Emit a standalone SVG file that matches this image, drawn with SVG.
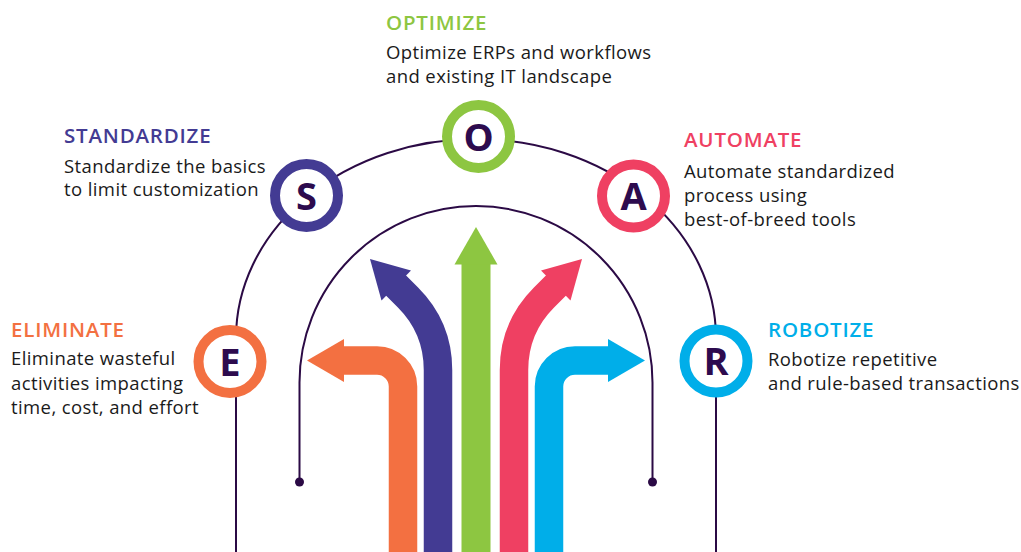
<svg xmlns="http://www.w3.org/2000/svg" width="1021" height="552" viewBox="0 0 1021 552">
<style>
.line{fill:none;stroke:#2b0a45;stroke-width:2}
.shaft{fill:none;stroke-width:28.5;stroke-linecap:butt}
.ring{fill:#fff;stroke-width:10}
.letter{font-family:"Open Sans","Noto Sans",sans-serif;font-weight:700;font-size:38px;fill:#2d0b4e;text-anchor:middle}
.title{font-family:"Open Sans","Noto Sans",sans-serif;font-weight:600;font-size:20.5px;letter-spacing:0.8px}
.body{font-family:"Open Sans","Noto Sans",sans-serif;font-size:18.5px;letter-spacing:0.4px;fill:#1a1a1a}
</style>
<rect width="1021" height="552" fill="#fff"/>
<g id="connectors">
<path class="line" d="M236 552 V338 A240 199 0 0 1 716 338 V552"/>
<path class="line" d="M299.5 482 V382.5 A176.5 176.5 0 0 1 652.5 382.5 V482"/>
<circle cx="299.5" cy="482" r="4.5" fill="#2b0a45"/>
<circle cx="652.5" cy="482" r="4.5" fill="#2b0a45"/>
</g>
<g id="arrows">
<path class="shaft" stroke="#f37041" d="M403 552 V386.5 A26 26 0 0 0 377 360.5 H342"/>
<polygon fill="#f37041" points="307,360.5 344,339 344,382"/>
<path class="shaft" stroke="#433b93" d="M438 552 V370 Q438 327.5 408 297.5 L394 283.5"/>
<polygon fill="#433b93" points="370,259 411,270.5 381.5,300.5"/>
<rect x="461.5" y="262" width="29" height="290" fill="#8dc641"/>
<polygon fill="#8dc641" points="476,227 454.5,264.5 497.5,264.5"/>
<path class="shaft" stroke="#ef4062" d="M514 552 V370 Q514 327.5 544 297.5 L558 283.5"/>
<polygon fill="#ef4062" points="582,259 541,270.5 570.5,300.5"/>
<path class="shaft" stroke="#00aee9" d="M549 552 V386.5 A26 26 0 0 1 575 360.5 H610"/>
<polygon fill="#00aee9" points="645,360.5 608,339 608,382"/>
</g>
<g id="node-optimize">
<circle class="ring" cx="478.5" cy="136.5" r="31.5" stroke="#8dc641"/>
<text class="letter" x="478.5" y="150.5">O</text>
<text class="title" x="386" y="30" fill="#8dc641">OPTIMIZE</text>
<text class="body" x="386" y="59">Optimize ERPs and workflows</text>
<text class="body" x="386" y="83">and existing IT landscape</text>
</g>
<g id="node-standardize">
<circle class="ring" cx="306.5" cy="195.5" r="31.5" stroke="#433b93"/>
<text class="letter" x="306.5" y="209.5">S</text>
<text class="title" x="64" y="143" fill="#433b93">STANDARDIZE</text>
<text class="body" x="64" y="173">Standardize the basics</text>
<text class="body" x="64" y="196">to limit customization</text>
</g>
<g id="node-automate">
<circle class="ring" cx="633.5" cy="196" r="31.5" stroke="#ef4062"/>
<text class="letter" x="633.5" y="210">A</text>
<text class="title" x="684" y="147" fill="#ef4062">AUTOMATE</text>
<text class="body" x="684" y="178">Automate standardized</text>
<text class="body" x="684" y="202">process using</text>
<text class="body" x="684" y="226">best-of-breed tools</text>
</g>
<g id="node-robotize">
<circle class="ring" cx="716" cy="361" r="31.5" stroke="#00aee9"/>
<text class="letter" x="716" y="375">R</text>
<text class="title" x="768" y="337" fill="#00aee9">ROBOTIZE</text>
<text class="body" x="768" y="366">Robotize repetitive</text>
<text class="body" x="768" y="390">and rule-based transactions</text>
</g>
<g id="node-eliminate">
<circle class="ring" cx="230" cy="361.5" r="31.5" stroke="#f37041"/>
<text class="letter" x="230" y="375.5">E</text>
<text class="title" x="11" y="337" fill="#f37041">ELIMINATE</text>
<text class="body" x="11" y="365">Eliminate wasteful</text>
<text class="body" x="11" y="390">activities impacting</text>
<text class="body" x="11" y="414">time, cost, and effort</text>
</g>
</svg>
